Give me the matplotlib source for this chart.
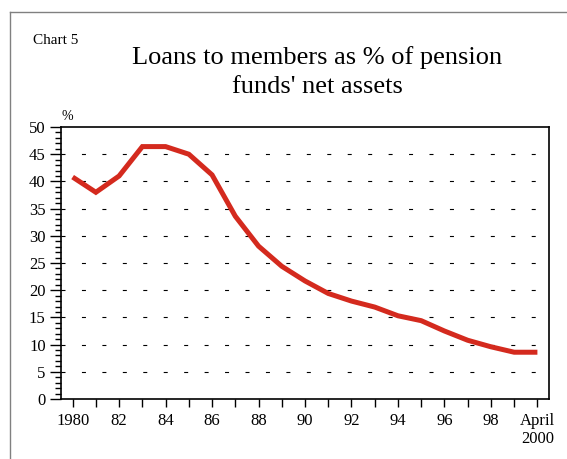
import matplotlib.pyplot as plt
from matplotlib.lines import Line2D
from matplotlib.ticker import MultipleLocator

plt.rcParams['font.family'] = 'Liberation Serif'

# Loans to members as % of pension funds' net assets, 1980 - April 2000
years = list(range(1980, 2001))
loans_pct = [40.8, 38.0, 41.0, 46.4, 46.4, 45.0, 41.2, 33.6, 28.1, 24.4, 21.7,
             19.4, 18.0, 16.9, 15.3, 14.4, 12.5, 10.8, 9.6, 8.6, 8.6]
tick_labels = ['1980', '', '82', '', '84', '', '86', '', '88', '', '90', '',
               '92', '', '94', '', '96', '', '98', '', 'April\n2000']

fig = plt.figure(figsize=(5.67, 4.59), dpi=100)
ax = fig.add_axes([0.1076, 0.1307, 0.8607, 0.5926])

ax.plot(years, loans_pct, color='#d42a1e', lw=3.6, solid_joinstyle='miter',
        solid_capstyle='butt', zorder=3)

ax.set_xlim(1979.5, 2000.5)
ax.set_ylim(0, 50)
ax.set_xticks(years)
ax.set_xticklabels(tick_labels, fontsize=12)
ax.yaxis.set_major_locator(MultipleLocator(5))
ax.yaxis.set_minor_locator(MultipleLocator(1))
ax.tick_params(axis='y', which='major', length=8, width=1, labelsize=12, pad=3)
ax.tick_params(axis='y', which='minor', length=4, width=1)
ax.tick_params(axis='x', which='major', length=6, width=1, pad=4)

for v in range(5, 50, 5):
    ax.axhline(v, color='black', lw=0.8, linestyle=(0, (3.6, 14.8)), zorder=1)

for s in ax.spines.values():
    s.set_linewidth(1.2)

ax.text(0.0, 1.015, '%', transform=ax.transAxes, fontsize=10, ha='left',
        va='bottom')

fig.text(0.058, 0.905, 'Chart 5', fontsize=11, ha='left', va='baseline')
fig.text(0.559, 0.843, "Loans to members as % of pension\nfunds' net assets",
         fontsize=19, ha='center', va='center', linespacing=1.38)

# outer frame of the chart panel
fig.add_artist(Line2D([10 / 567, 10 / 567], [0, 1 - 12 / 459],
                      transform=fig.transFigure, color='#808080', lw=1))
fig.add_artist(Line2D([10 / 567, 1], [1 - 12 / 459, 1 - 12 / 459],
                      transform=fig.transFigure, color='#808080', lw=1))

fig.savefig('out.png', dpi=100)
